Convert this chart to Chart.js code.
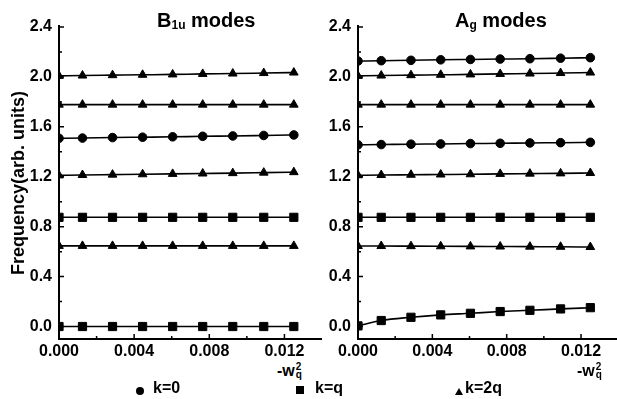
<!DOCTYPE html>
<html>
<head>
<meta charset="utf-8">
<script src="https://cdn.jsdelivr.net/npm/chart.js@4/dist/chart.umd.min.js"></script>
<style>
  html, body { margin:0; padding:0; background:#fff; overflow:hidden; }
  #wrap { position:relative; width:617px; height:399px; overflow:hidden;
          font-family:'Liberation Sans', Arial, sans-serif; font-weight:bold; color:#000; }
  canvas { position:absolute; top:0; }
  #left { left:0; }
  #right { left:300px; }
  .ptitle { position:absolute; top:10px; font-size:20px; line-height:20px; white-space:nowrap; }
  .ptitle sub { font-size:12px; vertical-align:-2px; line-height:0; }
  .xt { position:absolute; top:363px; font-size:16px; line-height:16px; white-space:nowrap; }
  .xt .st { display:inline-block; vertical-align:-2px; font-size:10px; line-height:8px; margin-left:1px; }
  .xt .st span { display:block; }
  .leg { position:absolute; top:380px; font-size:16px; line-height:16px; white-space:nowrap; }
  .sym { position:absolute; background:#000; }
  .sym.circle { width:8px; height:8px; border-radius:50%; }
  .sym.rect { width:8px; height:8px; }
  .sym.triangle { width:0; height:0; background:none; border-left:4.5px solid transparent;
                  border-right:4.5px solid transparent; border-bottom:7px solid #000; }
</style>
</head>
<body>
<div id="wrap">
  <canvas id="left" width="330" height="360"></canvas>
  <canvas id="right" width="325" height="360"></canvas>
  <div class="ptitle" style="left:157px">B<sub>1u</sub> modes</div>
  <div class="ptitle" style="left:455px">A<sub>g</sub> modes</div>
  <div class="xt" style="left:277px">-w<span class="st"><span>2</span><span>q</span></span></div>
  <div class="xt" style="left:577px">-w<span class="st"><span>2</span><span>q</span></span></div>
</div>
<script>
'use strict';

// x values (-w_q^2), same for every curve
const wq2 = [0, 0.00125, 0.00285, 0.00445, 0.00605, 0.00765, 0.00925, 0.0109, 0.0125];

// B1u modes
const b1uK0 = [1.508, 1.51, 1.514, 1.517, 1.52, 1.524, 1.527, 1.531, 1.535];
const b1uKqHigh = [0.875, 0.875, 0.875, 0.875, 0.875, 0.875, 0.875, 0.875, 0.875];
const b1uKqLow = [0, 0, 0, 0, 0, 0, 0, 0, 0];
const b1uK2q1 = [2.008, 2.011, 2.014, 2.017, 2.02, 2.024, 2.027, 2.031, 2.035];
const b1uK2q2 = [1.778, 1.778, 1.778, 1.778, 1.778, 1.778, 1.778, 1.778, 1.778];
const b1uK2q3 = [1.211, 1.214, 1.217, 1.22, 1.223, 1.226, 1.229, 1.233, 1.237];
const b1uK2q4 = [0.646, 0.646, 0.646, 0.646, 0.646, 0.646, 0.646, 0.646, 0.646];

// Ag modes
const agK0High = [2.127, 2.13, 2.133, 2.137, 2.14, 2.143, 2.146, 2.15, 2.154];
const agK0Low = [1.456, 1.458, 1.461, 1.463, 1.466, 1.468, 1.471, 1.473, 1.476];
const agKqHigh = [0.875, 0.875, 0.875, 0.875, 0.875, 0.875, 0.875, 0.875, 0.875];
const agKqLow = [0.005, 0.048, 0.074, 0.093, 0.106, 0.12, 0.13, 0.141, 0.151];
const agK2q1 = [2.008, 2.011, 2.014, 2.017, 2.02, 2.024, 2.027, 2.031, 2.035];
const agK2q2 = [1.778, 1.778, 1.778, 1.778, 1.778, 1.778, 1.778, 1.778, 1.778];
const agK2q3 = [1.212, 1.214, 1.216, 1.218, 1.22, 1.223, 1.225, 1.227, 1.23];
const agK2q4 = [0.645, 0.645, 0.644, 0.643, 0.642, 0.641, 0.64, 0.639, 0.637];

// axis ticks
const xTicks = [0, 0.004, 0.008, 0.012];
const xMinor = [0.002, 0.006, 0.010];
const yTicks = [0, 0.4, 0.8, 1.2, 1.6, 2.0, 2.4];
const yMinor = [0.2, 0.6, 1.0, 1.4, 1.8, 2.2];

// legend
const kLabels = ['k=0', 'k=q', 'k=2q'];
const kStyles = ['circle', 'rect', 'triangle'];
const legendPos = [{sx:136, sy:387, tx:153}, {sx:296, sy:386, tx:315}, {sx:455, sy:388, tx:465}];

const FONT = "'Liberation Sans', Arial, sans-serif";
const radius = {circle:4.3, rect:5.8, triangle:5};

function series(vals, k){
  return {
    data: wq2.map((x, i) => ({x:x, y:vals[i]})),
    borderColor:'#000',
    backgroundColor:'#000',
    borderWidth:1.6,
    pointStyle:kStyles[k],
    pointRadius:radius[kStyles[k]],
    pointBorderWidth:1,
    cubicInterpolationMode:'monotone',
    clip:0
  };
}

const innerTicks = {
  id:'innerTicks',
  afterDatasetsDraw(chart){
    const {ctx, chartArea:a, scales:{x, y}} = chart;
    ctx.save();
    ctx.strokeStyle = '#000';
    ctx.lineWidth = 1.5;
    ctx.beginPath();
    yTicks.forEach(v => { const p = y.getPixelForValue(v); ctx.moveTo(a.left, p); ctx.lineTo(a.left + 5, p); });
    yMinor.forEach(v => { const p = y.getPixelForValue(v); ctx.moveTo(a.left, p); ctx.lineTo(a.left + 3, p); });
    xTicks.forEach(v => { const p = x.getPixelForValue(v); ctx.moveTo(p, a.bottom); ctx.lineTo(p, a.bottom - 5); });
    xMinor.forEach(v => { const p = x.getPixelForValue(v); ctx.moveTo(p, a.bottom); ctx.lineTo(p, a.bottom - 3); });
    ctx.stroke();
    ctx.lineWidth = 2;
    ctx.beginPath();
    ctx.moveTo(a.left, a.top - 2);
    ctx.lineTo(a.left, a.bottom);
    ctx.lineTo(a.right, a.bottom);
    ctx.stroke();
    ctx.restore();
  }
};

function makePanel(el, sets, yWidth, padRight, showYTitle){
  return new Chart(document.getElementById(el), {
    type:'line',
    data:{datasets:sets},
    options:{
      responsive:false,
      animation:false,
      devicePixelRatio:1,
      layout:{padding:{top:27, right:padRight, left:0, bottom:0}},
      plugins:{legend:{display:false}, tooltip:{enabled:false}},
      scales:{
        x:{
          type:'linear', min:0, max:0.014,
          grid:{display:false, drawTicks:false}, border:{display:false},
          afterBuildTicks:(s) => { s.ticks = xTicks.map(v => ({value:v})); },
          afterFit:(s) => { s.height = 21; },
          ticks:{color:'#000', padding:3, maxRotation:0, autoSkip:false,
                 font:{family:FONT, size:16, weight:'bold'},
                 callback:(v) => Number(v).toFixed(3)}
        },
        y:{
          type:'linear', min:-0.1, max:2.4,
          grid:{display:false, drawTicks:false}, border:{display:false},
          afterBuildTicks:(s) => { s.ticks = yTicks.map(v => ({value:v})); },
          afterFit:(s) => { s.width = yWidth; },
          title:{display:showYTitle, text:'Frequency(arb. units)', color:'#000',
                 padding:{top:8, bottom:0},
                 font:{family:FONT, size:18, weight:'bold'}},
          ticks:{color:'#000', padding:7,
                 font:{family:FONT, size:16, weight:'bold'},
                 callback:(v) => Number(v).toFixed(1)}
        }
      }
    },
    plugins:[innerTicks]
  });
}

makePanel('left', [
  series(b1uK2q1, 2), series(b1uK2q2, 2), series(b1uK0, 0), series(b1uK2q3, 2),
  series(b1uKqHigh, 1), series(b1uK2q4, 2), series(b1uKqLow, 1)
], 59, 8, true);

makePanel('right', [
  series(agK0High, 0), series(agK2q1, 2), series(agK2q2, 2), series(agK0Low, 0),
  series(agK2q3, 2), series(agKqHigh, 1), series(agK2q4, 2), series(agKqLow, 1)
], 58, 4, false);

// legend below both panels
const wrap = document.getElementById('wrap');
kLabels.forEach((lab, k) => {
  const pos = legendPos[k];
  const s = document.createElement('div');
  s.className = 'sym ' + kStyles[k];
  s.style.left = pos.sx + 'px';
  s.style.top = pos.sy + 'px';
  wrap.appendChild(s);
  const t = document.createElement('div');
  t.className = 'leg';
  t.style.left = pos.tx + 'px';
  t.textContent = lab;
  wrap.appendChild(t);
});
</script>
</body>
</html>
